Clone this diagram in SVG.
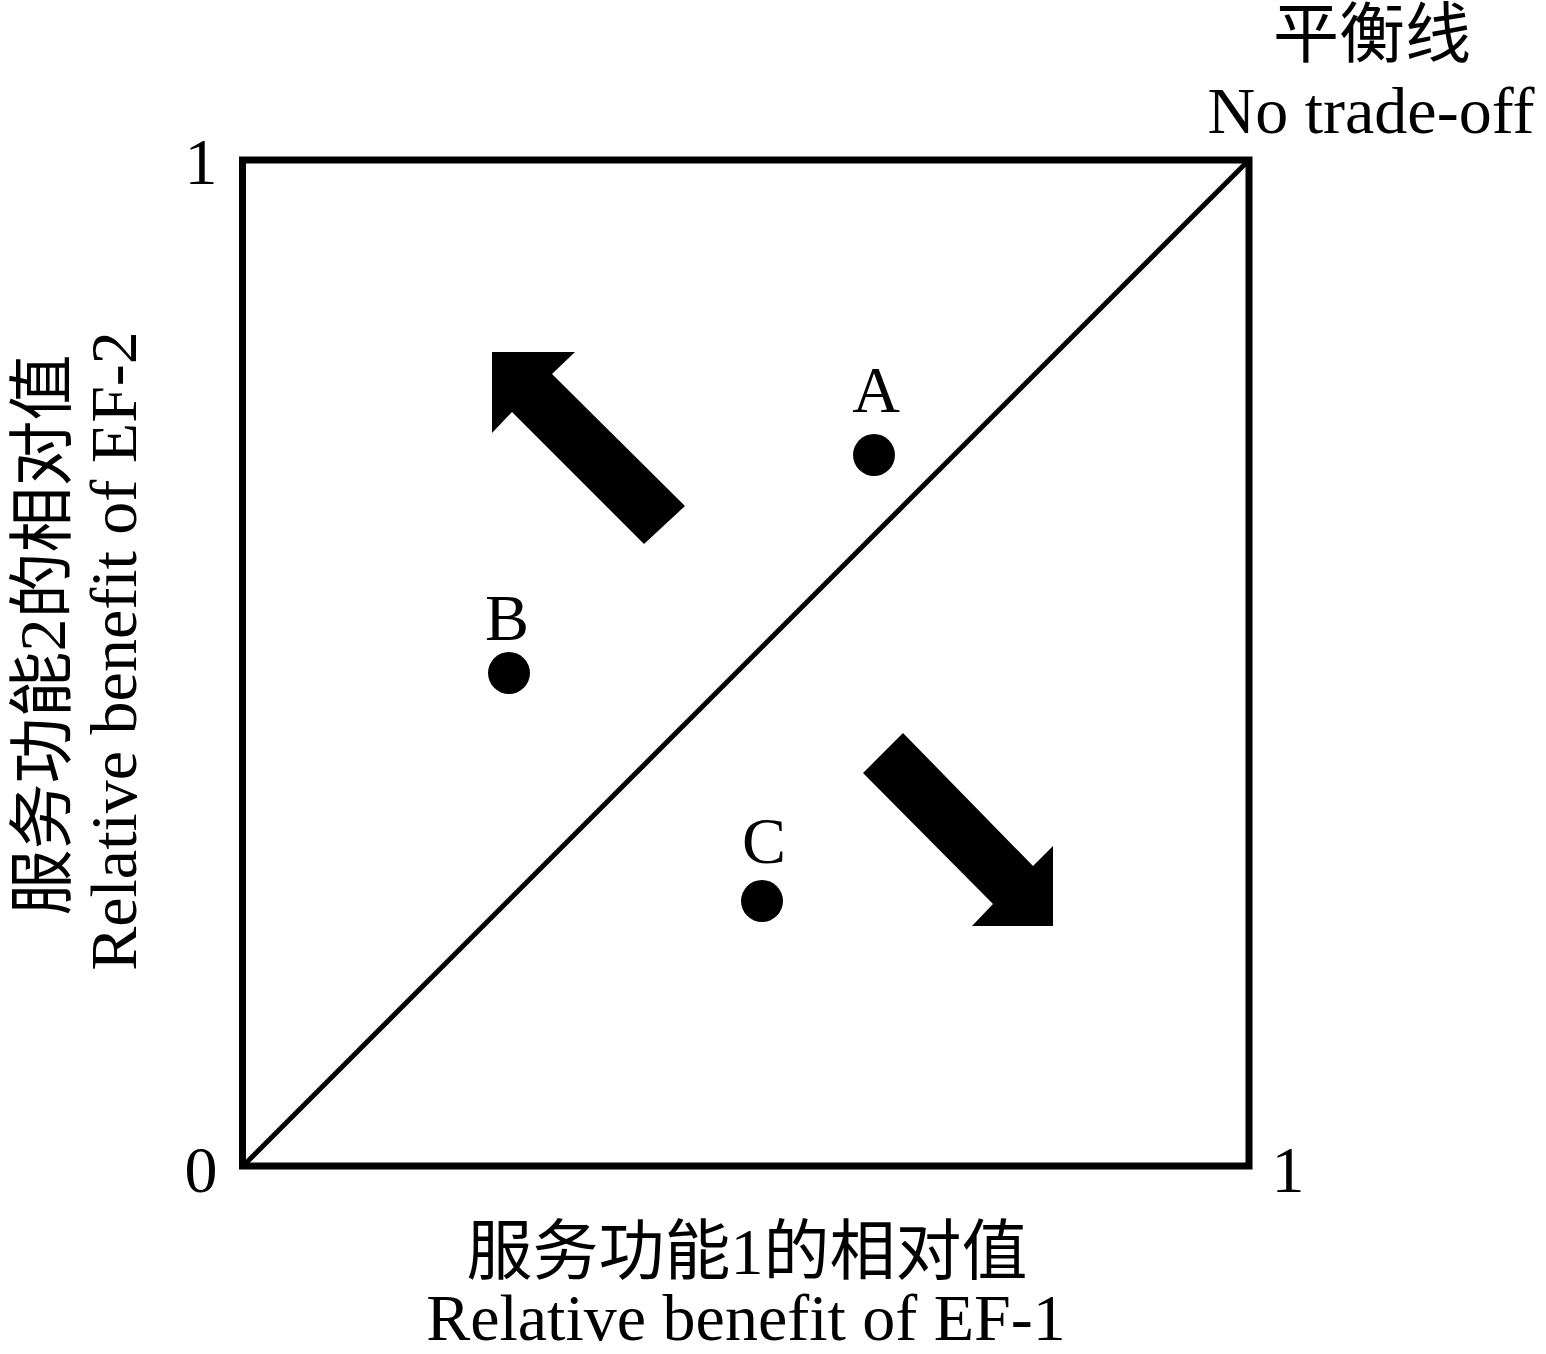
<svg xmlns="http://www.w3.org/2000/svg" width="1546" height="1354" viewBox="0 0 1546 1354">
<style>
.t{font-family:"Liberation Serif","Noto Sans CJK SC",serif;font-size:66px;fill:#000;text-anchor:middle}
.ln{stroke:#000;fill:none}
</style>
<rect width="1546" height="1354" fill="#fff"/>
<g id="frame">
<rect class="ln" x="242.5" y="160" width="1006.5" height="1006" stroke-width="7"/>
</g>
<g id="connectors">
<line class="ln" x1="243" y1="1166" x2="1249" y2="160" stroke-width="5"/>
<polygon id="arrow-up" points="492,352 575,352 552,374 685,506 644,544 512,412 492,433" fill="#000"/>
<polygon id="arrow-down" points="903,733 1033,866 1053,846 1053,926 972,926 993,904 863,773" fill="#000"/>
</g>
<g id="nodeA"><circle cx="874" cy="455" r="21" fill="#000"/><text class="t" x="876" y="412">A</text></g>
<g id="nodeB"><circle cx="509" cy="673" r="21" fill="#000"/><text class="t" x="507" y="640">B</text></g>
<g id="nodeC"><circle cx="762" cy="901" r="21" fill="#000"/><text class="t" x="764" y="863">C</text></g>
<g id="ticks">
<text class="t" x="201" y="184">1</text>
<text class="t" x="201" y="1192">0</text>
<text class="t" x="1288" y="1192">1</text>
</g>
<g id="label-line">
<text class="t" x="1372" y="57">平衡线</text>
<text class="t" x="1371" y="133">No trade-off</text>
</g>
<g id="label-x">
<text class="t" x="747" y="1274">服务功能1的相对值</text>
<text class="t" x="746" y="1340">Relative benefit of EF-1</text>
</g>
<g id="label-y">
<text class="t" transform="translate(65,635) rotate(-90)">服务功能2的相对值</text>
<text class="t" transform="translate(136,651) rotate(-90)">Relative benefit of EF-2</text>
</g>
</svg>
